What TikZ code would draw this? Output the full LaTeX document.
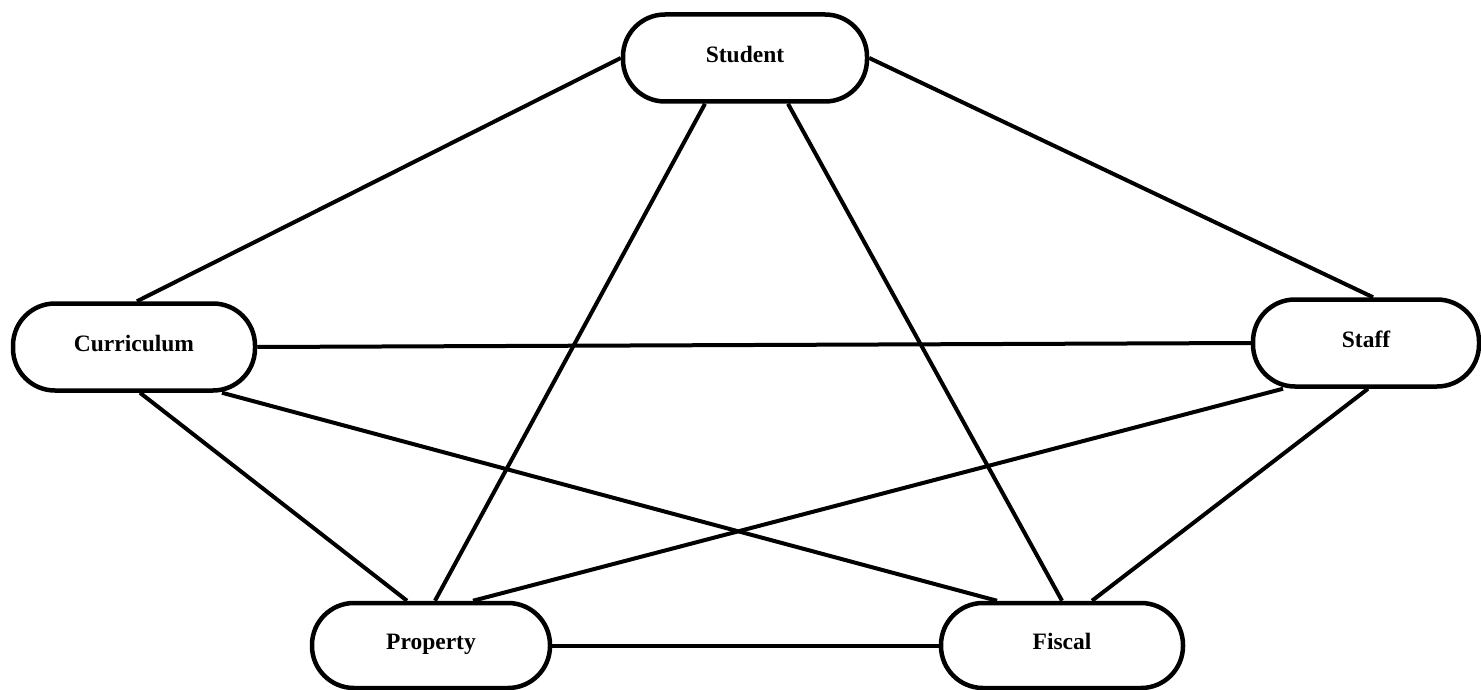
\documentclass[tikz,border=0pt]{standalone}
\usepackage{fontspec}
\setmainfont{Liberation Serif}
\begin{document}
\begin{tikzpicture}[x=1pt,y=1pt,
  entity/.style={draw=black, line width=4.5pt, fill=white, rounded corners=42pt,
    minimum height=87pt, inner sep=0pt, text height=1.75ex, text depth=0pt,
    font=\fontsize{23.5}{27}\selectfont\bfseries},
  link/.style={draw=black, line width=4pt}]
\useasboundingbox (0,0) rectangle (1481,-690);
\node[entity, minimum width=244pt] (stu) at (745,-58) {Student};
\node[entity, minimum width=242pt] (cur) at (134,-347) {Curriculum};
\node[entity, minimum width=226pt] (sta) at (1366,-343) {Staff};
\node[entity, minimum width=238pt, minimum height=85pt] (pro) at (431,-645.5) {Property};
\node[entity, minimum width=242pt, minimum height=85pt] (fis) at (1062,-645.5) {Fiscal};
\draw[link] (stu.west) -- ([xshift=3pt]cur.north);
\draw[link] (stu.east) -- ([xshift=7pt]sta.north);
\draw[link] ([xshift=-40pt]stu.south) -- ([xshift=4pt]pro.north);
\draw[link] ([xshift=43pt]stu.south) -- (fis.north);
\draw[link] (cur.east) -- (sta.west);
\draw[link] ([xshift=6pt]cur.south) -- ([xshift=-24pt]pro.north);
\draw[link] ([xshift=88pt]cur.south) -- ([xshift=-65pt]fis.north);
\draw[link] ([xshift=-83pt]sta.south) -- ([xshift=42pt]pro.north);
\draw[link] ([xshift=2pt]sta.south) -- ([xshift=30pt]fis.north);
\draw[link] (pro.east) -- (fis.west);
\end{tikzpicture}
\end{document}
